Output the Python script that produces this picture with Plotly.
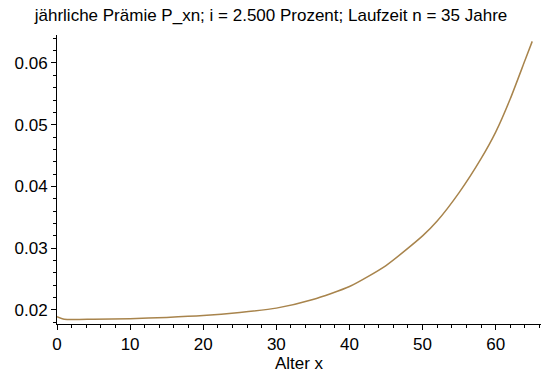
import plotly.graph_objects as go

# Age x and annual premium P_xn
ages = [0, 1, 5, 10, 15, 20, 25, 30, 35, 40, 45, 50, 52, 55, 58, 60, 62, 64, 65]
premium = [0.0189, 0.0185, 0.0185, 0.0186, 0.0188, 0.0191, 0.0196, 0.0203, 0.0217,
           0.0238, 0.0272, 0.0320, 0.0344, 0.0390, 0.0445, 0.0488, 0.0542, 0.0604, 0.0635]

title_text = "jährliche Prämie P_xn; i = 2.500 Prozent; Laufzeit n = 35 Jahre"
x_title = "Alter x"
y_ticks = [0.02, 0.03, 0.04, 0.05, 0.06]
x_ticks = [0, 10, 20, 30, 40, 50, 60]

fig = go.Figure(go.Scatter(
    x=ages, y=premium, mode="lines", line=dict(color="#A8844C", width=1.5, shape="spline", smoothing=0.6),
    hoverinfo="skip"))

font = dict(family="Liberation Sans, Arial, sans-serif", size=17, color="black")

fig.update_layout(
    width=542, height=374,
    margin=dict(l=57, r=1, t=35, b=50),
    paper_bgcolor="white", plot_bgcolor="white",
    showlegend=False,
    font=font,
    title=dict(text=title_text, x=0.5, xanchor="center", y=1 - 15 / 374, yanchor="middle",
               font=font),
    xaxis=dict(range=[0, 66.2], tickvals=x_ticks, ticks="outside", ticklen=5, tickcolor="black",
               showline=True, linecolor="black", linewidth=1, showgrid=False, zeroline=False,
               minor=dict(dtick=2, tick0=0, ticks="outside", ticklen=3, tickcolor="black"),
               title=dict(text=x_title, standoff=0, font=font), tickfont=font),
    yaxis=dict(range=[0.01773, 0.06453], tickvals=y_ticks, tickformat=".2f", ticks="outside",
               ticklen=5, tickcolor="black", showline=True, linecolor="black", linewidth=1,
               showgrid=False, zeroline=False,
               minor=dict(dtick=0.002, tick0=0, ticks="outside", ticklen=3, tickcolor="black"),
               tickfont=font),
)

fig.write_html("out.html")
